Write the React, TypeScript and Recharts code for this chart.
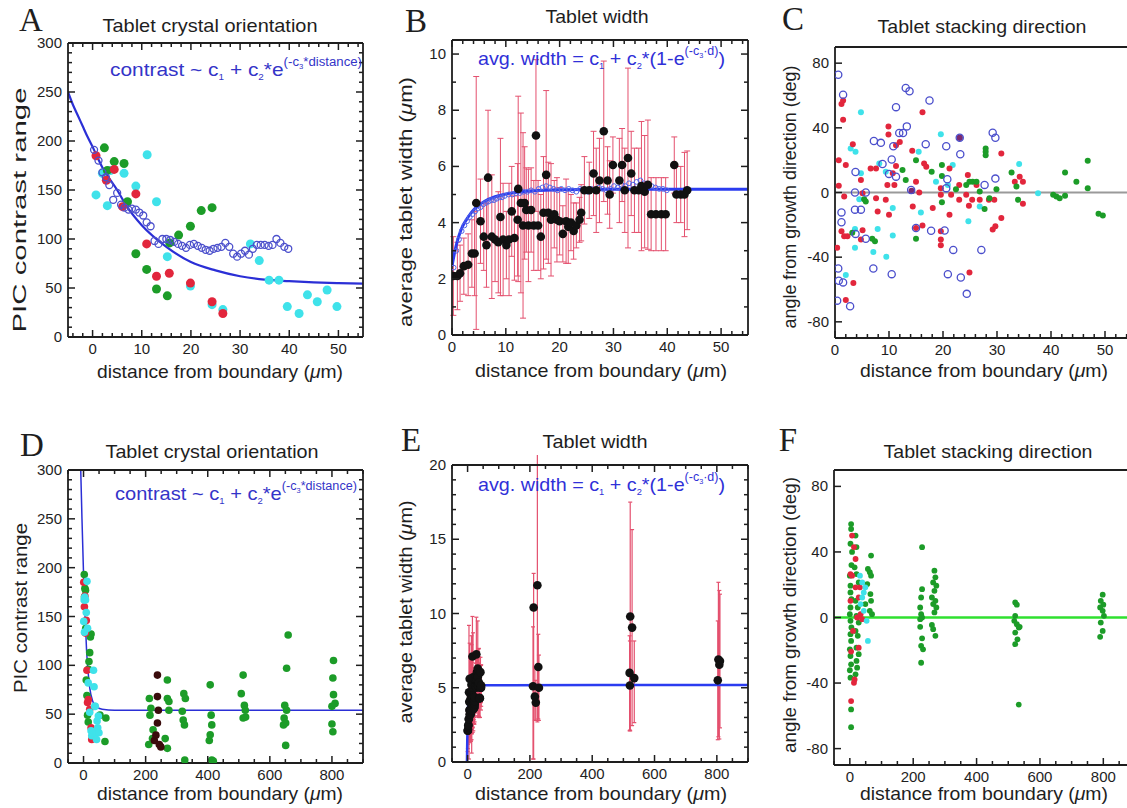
import React from 'react'
import { ComposedChart, Scatter, Line, XAxis, YAxis, ErrorBar, ReferenceLine } from 'recharts'

const FONT = '"Liberation Sans", Arial, Helvetica, sans-serif'
const SERIF = '"Liberation Serif", "Times New Roman", serif'
const GREEN = '#1c9c28'
const RED = '#e2263c'
const CYAN = '#3fe2ea'
const OPEN = '#4b4fcc'
const FIT = '#2b2fd6'
const BAR = '#e4506e'
const INK = '#1e1e1e'

// ---- A / D: PIC contrast range vs distance ----
const aOpen = [[0.3,191],[1.2,180],[2.0,168],[2.7,163],[3.4,155],[4.2,140],[5.0,147],[5.8,135],[6.5,132],[7.3,130],[8.0,131],[8.8,130],[9.5,127],[10.3,124],[11.0,117],[11.8,113],[12.6,98],[13.4,95],[14.2,100],[15.0,100],[15.8,99],[16.6,97],[17.4,95],[18.2,93],[19.0,91],[19.8,94],[20.6,95],[21.4,93],[22.2,91],[23.0,89],[23.8,88],[24.6,90],[25.4,91],[26.2,92],[27.0,96],[27.8,92],[28.6,85],[29.4,82],[30.2,85],[31.0,88],[31.8,84],[32.6,90],[33.4,94],[34.2,94],[35.0,94],[35.8,93],[36.6,94],[37.4,100],[38.2,96],[39.0,92],[39.8,90]]
const aGreen = [[2.4,193],[3.0,170],[4.4,179],[6.4,177],[7.1,138],[8.8,85],[11.0,69],[13.0,49],[15.2,42],[15.7,96],[17.5,104],[19.9,113],[22.1,129],[24.3,132]]
const aRed = [[0.7,185],[2.8,160],[4.4,171],[6.1,133],[8.8,146],[11.0,95],[13.0,62],[15.6,65],[19.9,55],[24.3,36],[26.5,24]]
const aCyan = [[0.7,145],[2.0,167],[3.0,134],[3.7,170],[6.4,167],[8.8,154],[11.1,186],[13.0,138],[15.2,82],[19.9,52],[24.3,33],[26.5,28],[32.1,95],[33.9,78],[35.9,58],[37.9,58],[39.6,31],[42.0,24],[43.7,43],[45.7,36],[47.7,48],[49.7,31]]
const aFit = [[-5,250],[-4,237],[-3,226],[-2,215],[-1,204],[0,194],[2,173],[5,150],[7,133],[10,114],[15,92],[20,76.5],[25,68],[30,62],[35,58.5],[40,57],[45,55.8],[50,55],[55,54.5]]

const dGreen = [[53,49],[69,22],[72,46],[210,19],[212,66],[214,49],[217,56],[222,25],[224,34],[263,25],[270,85],[270,66],[270,15],[275,63],[275,54],[318,53],[321,44],[323,71],[325,39],[326,3],[328,66],[405,23],[408,80],[408,29],[411,49],[413,39],[413,3],[418,2],[508,71],[514,90],[514,46],[518,59],[521,54],[522,47],[644,39],[646,46],[648,59],[651,41],[651,18],[654,97],[654,54],[659,131],[800,58],[800,40],[803,87],[803,32],[805,105],[805,70],[810,61]]
const dDark = [[228,23],[233,28.5],[238,90],[238,68],[238,41],[241,54],[244,19],[249,16.5]]
const dFit = [[-9,300],[-5,250],[0,194],[5,150],[10,114],[20,77],[30,63],[40,58],[60,55],[100,54],[900,54]]

// ---- B / E: average tablet width ----
const bBlack = [[0.25,2.1,1.4],[1.0,2.1,1.2],[1.5,2.2,1.0],[2.2,2.45,1.0],[3.0,2.5,1.1],[3.7,2.9,1.2],[4.2,2.9,1.5],[4.5,4.7,4.5],[5.3,4.05,1.5],[5.9,3.5,1.2],[6.4,3.2,1.5],[6.7,5.6,2.4],[7.4,3.5,2.2],[8.0,3.4,1.5],[8.6,3.3,1.8],[9.0,4.2,2.8],[9.5,3.4,2.0],[10.1,3.2,1.2],[10.6,3.4,2.0],[11.1,4.4,1.6],[11.6,3.45,1.5],[12.2,4.1,2.0],[12.3,5.2,3.3],[12.8,4.7,3.2],[13.2,3.9,3.3],[13.5,4.7,2.0],[13.8,4.45,1.5],[14.2,3.9,2.0],[14.7,4.45,1.5],[15.2,3.9,1.6],[15.6,7.1,2.7],[16.0,3.9,1.6],[16.5,3.5,1.5],[17.0,4.35,2.0],[17.5,5.7,3.0],[17.9,4.35,1.8],[18.4,4.1,2.0],[19.0,4.3,1.2],[19.5,4.1,1.5],[20.0,4.05,1.2],[20.6,3.6,1.0],[21.2,4.05,1.5],[21.6,3.85,1.3],[22.1,4.0,1.0],[22.6,3.7,1.0],[23.1,3.9,0.8],[23.7,4.1,0.8],[24.0,4.35,1.0],[24.6,5.15,1.2],[25.5,5.15,1.0],[26.3,5.75,1.5],[26.8,5.15,1.5],[27.4,5.5,1.5],[28.2,7.25,2.5],[28.9,5.5,1.2],[29.3,5.0,1.2],[29.9,6.05,1.0],[31.1,5.5,1.5],[31.6,6.05,1.3],[32.1,5.15,1.5],[32.7,6.3,3.2],[33.3,5.75,1.5],[33.9,5.15,1.5],[34.7,5.15,1.5],[35.2,5.3,2.3],[35.8,5.1,2.0],[36.4,5.35,2.3],[37.0,4.3,1.3],[37.9,4.3,1.3],[38.9,4.3,1.3],[39.7,4.3,1.3],[41.3,6.05,1.0],[41.7,5.0,1.0],[42.5,5.0,1.0],[43.2,5.0,1.5],[43.7,5.15,1.4]]
const bOpen = [[0.3,2.4],[0.8,3.0],[1.3,3.4],[1.8,3.7],[2.3,3.9],[2.8,4.05],[3.3,4.2],[3.8,4.3],[4.3,4.4],[4.8,4.5],[5.3,4.55],[5.8,4.65],[6.3,4.7],[6.8,4.75],[7.3,4.8],[7.8,4.8],[8.3,4.85],[8.8,4.9],[9.3,4.9],[9.8,4.95],[10.5,5.0],[11.2,5.0],[11.9,5.05],[12.6,5.05],[13.3,5.1],[14.0,5.1],[14.7,5.15],[15.4,5.1],[16.1,5.2],[16.8,5.25],[17.5,5.3],[18.2,5.25],[18.9,5.2],[19.6,5.15],[20.3,5.2],[21.0,5.15],[21.7,5.2],[22.4,5.15],[23.1,5.1],[23.8,5.2],[24.5,5.15],[25.2,5.1],[25.9,5.2],[26.6,5.15],[27.3,5.25],[28.0,5.2],[28.7,5.15],[29.4,5.2],[30.1,5.3],[30.8,5.25],[31.5,5.35],[32.2,5.3],[32.9,5.4],[33.6,5.35],[34.3,5.45],[35.0,5.5],[35.7,5.4],[36.4,5.35],[37.1,5.3],[37.8,5.25],[38.5,5.2],[39.2,5.2],[39.9,5.15]]
const bFit = [[0,2.45],[0.5,2.95],[1,3.35],[1.5,3.65],[2,3.88],[3,4.2],[4,4.45],[5,4.62],[6,4.75],[8,4.92],[10,5.02],[12,5.08],[15,5.13],[20,5.17],[30,5.19],[55,5.19]]

// far-field points: x, y, error below, error above
const eBlack = [[210,5.1,4.9,4],[212,10.4,10.2,2.3],[216,4.4,1.6,2],[219,4.0,1.2,1.5],[224,11.9,9.2,9],[227,6.4,3.5,2.2],[229,5.0,2.2,2.2],[520,6.0,3.9,2.5],[521,5.15,3,3],[522,9.8,7.7,7.7],[528,9.05,6.6,6.6],[535,5.65,3,2.5],[803,5.5,4,4],[805,6.9,5.2,5.2],[808,6.55,5.0,5.0],[810,6.8,4.5,4.5]]
const eFit = [[-2,0],[-1,1.5],[0,2.45],[2,3.88],[5,4.62],[10,5.02],[20,5.17],[900,5.19]]

// ---- C: stacking direction, near boundary ----
const cOpen = [[0.6,72.8],[1.5,60.5],[11.3,52.8],[13.1,64.6],[13.8,62.6],[17.5,56.9],[13.3,40.9],[12.6,36.8],[11.9,36.8],[7.2,31.9],[8.5,30.7],[10.8,28.6],[16.8,29.9],[20.6,28.6],[23.2,23.7],[23.1,33.9],[29.2,37.0],[29.7,33.9],[10.5,20.4],[8.8,17.6],[3.8,12.7],[10.0,11.5],[11.3,9.8],[20.8,8.2],[29.7,8.6],[27.7,4.7],[20.6,2.7],[5.7,0],[3.7,0],[14.1,1.6],[3.7,-10.6],[4.8,-10.6],[1.2,-12.3],[1.2,-18.4],[5.7,-28.6],[15.0,-21.9],[17.8,-23.7],[20.3,-23.5],[3.8,-25.6],[0.6,-47.0],[0.7,-54.6],[1.5,-55.6],[0.4,-66.9],[2.8,-70.4],[7.1,-47.0],[10.5,-50.5],[20.9,-50.5],[21.9,-35.5],[23.3,-52.6],[27.1,-35.5],[24.4,-62.7]]
const cRed = [[1.2,54.8],[1.5,56.9],[1.5,45.0],[0.7,20.0],[2.0,17.0],[3.3,29.9],[0.7,4.1],[1.7,-2.5],[0.4,-34.2],[1.2,-23.9],[1.7,-27.0],[2.3,-27.0],[2.0,-66.5],[3.4,-56.0],[4.8,-29.0],[5.1,-23.3],[4.8,7.8],[5.1,-0.4],[6.6,14.9],[7.6,14.9],[7.6,-3.5],[7.9,-11.7],[9.4,-4.5],[9.7,4.7],[9.9,40.9],[9.9,35.8],[10.7,11.9],[11.0,4.7],[11.3,16.4],[11.3,29.2],[10.0,-13.7],[12.0,31.3],[14.3,25.8],[14.4,-8.6],[15.0,6.7],[15.0,-21.9],[15.6,0],[16.2,-20.4],[16.5,18.0],[16.9,16.0],[16.2,49.7],[18.1,-9.6],[19.6,2.7],[19.6,-1.4],[19.6,-23.9],[19.6,-29.0],[19.6,-32.7],[21.2,14.9],[21.2,-13.7],[21.5,-1.4],[23.0,-4.5],[23.0,4.7],[24.3,-1.4],[24.6,10.8],[24.8,-8.2],[24.9,-49.5],[25.4,-4.5],[26.2,4.7],[26.8,-4.5],[28.5,-4.5],[29.5,-4.5],[29.2,-22.9],[29.7,-20.9],[30.8,24.1],[30.8,-15.7],[33.3,6.7],[34.2,9.8],[34.8,6.7],[34.8,-7.0]]
const cGreen = [[5.4,-4.1],[5.7,-5.5],[6.9,-28.6],[7.4,-30.1],[3.2,-24.9],[12.5,13.9],[13.1,7.8],[15.0,20.0],[15.0,-28.6],[17.9,12.9],[19.8,17.0],[19.8,10.2],[19.8,-6.1],[22.4,2.0],[24.3,4.7],[24.9,6.7],[25.5,6.7],[26.2,6.7],[26.8,0.6],[27.7,-10.2],[27.9,27.2],[27.9,25.2],[27.9,23.1],[28.6,-3.5],[29.9,2.0],[32.7,12.3],[33.6,3.7],[33.9,-4.5],[40.4,-1.4],[41.0,-2.5],[41.6,-3.5],[42.6,12.3],[42.6,-2.0],[44.7,6.7],[46.8,19.6],[46.8,2.7],[48.8,-13.1],[49.6,-14.3]]
const cCyan = [[4.8,49.7],[2.9,27.2],[3.8,25.2],[4.8,11.9],[4.5,-4.1],[3.7,-22.5],[3.7,-34.2],[2.0,-51.1],[7.1,-36.8],[7.9,-22.5],[9.5,-39.7],[10.7,-26.6],[10.7,-9.6],[9.4,12.9],[8.2,18.0],[19.6,36.0],[18.7,6.7],[15.5,25.2],[15.9,-12.3],[21.8,17.0],[20.9,4.7],[24.7,-17.8],[26.8,-8.6],[34.1,17.6],[37.6,-0.4]]
const cPurple = [[23.1,33.9],[14.2,1.0]]

// ---- F: stacking direction, far field ----
const fGreen = [[4,57],[4,54],[2,45],[7,40],[5,32],[0,25.5],[2,19.4],[2,15.3],[5,11.2],[2,6.1],[0,2.0],[2,-2.0],[5,-6.1],[2,-10.2],[4,-14.3],[0,-19.4],[2,-23.5],[4,-28.6],[0,-32.2],[2,-36.7],[4,-56.1],[4,-66.9],[18,50],[21,43],[15,30.6],[21,26.5],[28,21.4],[18,10.2],[25,6.1],[21,1.0],[28,-3.1],[18,-8.2],[25,-11.2],[21,-18.4],[28,-22.4],[21,-26.5],[23,-30.6],[18,-34.7],[57,29.6],[63,27.6],[67,25.5],[67,37.8],[65,14.3],[67,10.2],[63,4.1],[70,2.0],[55,20.4],[49,8.2],[228,42.9],[228,17.3],[225,12.2],[222,6.1],[225,2.0],[228,0],[222,-5.7],[228,-12.7],[225,-17.3],[231,-19.4],[225,-27.6],[222,-1.0],[267,28.6],[270,24.5],[263,21.4],[273,19.4],[267,16.3],[259,12.2],[270,10.2],[263,8.2],[273,6.1],[267,3.1],[259,-4.5],[263,-7.1],[270,-11.2],[522,9.2],[527,7.8],[522,1.0],[519,-2.0],[527,-4.1],[533,-6.1],[522,-9.2],[529,-13.3],[522,-16.3],[533,-53.1],[536,-5.7],[798,13.9],[792,10.2],[800,7.8],[790,6.1],[798,4.1],[802,1.0],[792,-3.1],[798,-8.2],[790,-11.8]]
const fRed = [[7,50],[13,43],[18,35.7],[2,26.5],[7,25.5],[18,18.4],[2,10.2],[28,12.2],[23,0],[10,-8.2],[34,2.0],[28,-18.4],[4,-20.8],[13,-39.8],[15,-37.8],[4,-51.0],[39,-1.0],[32,18.4]]
const fCyan = [[32,25.5],[39,21.4],[49,18.4],[39,12.2],[44,4.1],[53,-2.0],[57,-14.3],[34,8.2],[44,15.3]]

// tick labels
const xMajNear = [0, 10, 20, 30, 40, 50]
const xMajFar = [0, 200, 400, 600, 800]
const yMajPic = [0, 50, 100, 150, 200, 250, 300]
const yMajWidthB = [0, 2, 4, 6, 8, 10]
const yMajWidthE = [0, 5, 10, 15, 20]
const yMajAngle = [-80, -40, 0, 40, 80]

const pts = (a: number[][]) => a.map(([x, y]) => ({ x, y }))
const range = (a: number, b: number, s: number) => {
  const out: number[] = []
  for (let v = a; v <= b + 1e-9; v += s) out.push(Math.round(v * 1000) / 1000)
  return out
}

const ax = { xAxisId: 'b', yAxisId: 'l' }
const dot = (fill: string, r: number) => (p: any) => <circle cx={p.cx} cy={p.cy} r={r} fill={fill} />
const ring = (stroke: string, r: number, w = 1.3) => (p: any) => (
  <circle cx={p.cx} cy={p.cy} r={r} fill="none" stroke={stroke} strokeWidth={w} />
)
const noShape = () => <g />

type Side = 'bottom' | 'left' | 'top' | 'right'

function tickOf(side: Side, major: number[], labels: boolean) {
  return (p: any) => {
    const v = Number(p.payload?.value)
    const big = major.some((m) => Math.abs(m - v) < 1e-6)
    const n = big ? 7 : 4
    const { x, y } = p
    let c = { x1: x, x2: x, y1: y, y2: y - n }
    if (side === 'top') c = { x1: x, x2: x, y1: y, y2: y + n }
    else if (side === 'left') c = { x1: x, x2: x + n, y1: y, y2: y }
    else if (side === 'right') c = { x1: x, x2: x - n, y1: y, y2: y }
    return (
      <g>
        <line {...c} stroke={INK} strokeWidth={1.5} />
        {labels && big && side === 'bottom' && (
          <text x={x} y={y + 17} textAnchor="middle" fontSize={15} fontFamily={FONT} fill={INK}>{v}</text>
        )}
        {labels && big && side === 'left' && (
          <text x={x - 6} y={y + 5} textAnchor="end" fontSize={15} fontFamily={FONT} fill={INK}>{v}</text>
        )}
      </g>
    )
  }
}

interface PanelProps {
  left: number
  top: number
  w: number
  h: number
  xd: [number, number]
  yd: [number, number]
  xMaj: number[]
  xStep: number
  yMaj: number[]
  yStep: number
  frame?: boolean
  children: React.ReactNode
}

function Panel({ left, top, w, h, xd, yd, xMaj, xStep, yMaj, yStep, frame = true, children }: PanelProps) {
  const xt = range(Math.ceil(xd[0] / xStep) * xStep, xd[1], xStep)
  const yt = range(Math.ceil(yd[0] / yStep) * yStep, yd[1], yStep)
  const line = { stroke: INK, strokeWidth: 1.8 }
  return (
    <div style={{ position: 'absolute', left: left - 70, top: top - 10 }}>
      <ComposedChart width={w + 80} height={h + 40} margin={{ top: 0, right: 0, bottom: 0, left: 0 }}>
        <XAxis xAxisId="b" type="number" dataKey="x" domain={xd} allowDataOverflow ticks={xt} interval={0}
          height={30} tickSize={0} tickMargin={0} tickLine={false} tick={tickOf('bottom', xMaj, true)} axisLine={line} />
        <XAxis xAxisId="t" orientation="top" type="number" dataKey="x" domain={xd} allowDataOverflow ticks={xt} interval={0}
          height={10} tickSize={0} tickMargin={0} tickLine={false} tick={frame ? tickOf('top', xMaj, false) : false} axisLine={line} />
        <YAxis yAxisId="l" type="number" dataKey="y" domain={yd} allowDataOverflow ticks={yt} interval={0}
          width={70} tickSize={0} tickMargin={0} tickLine={false} tick={tickOf('left', yMaj, true)} axisLine={line} />
        <YAxis yAxisId="r" orientation="right" type="number" dataKey="y" domain={yd} allowDataOverflow ticks={yt} interval={0}
          width={10} tickSize={0} tickMargin={0} tickLine={false} tick={frame ? tickOf('right', yMaj, false) : false} axisLine={line} />
        {children}
      </ComposedChart>
    </div>
  )
}

// text fitted to the length it has in the figure
function Fit({ x, y, len, size = 19, rot = false, anchor = 'middle', children }: any) {
  return (
    <text
      transform={`translate(${x},${y})${rot ? ' rotate(-90)' : ''}`}
      textAnchor={anchor}
      fontSize={size}
      fontFamily={FONT}
      fill={INK}
      textLength={len}
      lengthAdjust="spacingAndGlyphs"
    >
      {children}
    </text>
  )
}

function Letter({ x, y, children }: any) {
  return (
    <text x={x} y={y} textAnchor="middle" fontSize={33} fontFamily={SERIF} fill={INK}>{children}</text>
  )
}

function ContrastFormula({ x, y, len }: { x: number; y: number; len: number }) {
  return (
    <text x={x} y={y} fontSize={19} fontFamily={FONT} fill="#3434c8" textLength={len} lengthAdjust="spacingAndGlyphs">
      {'contrast ~ c'}
      <tspan fontSize={9} dy={4}>1</tspan>
      <tspan dy={-4}>{' + c'}</tspan>
      <tspan fontSize={9} dy={4}>2</tspan>
      <tspan dy={-4}>{'*e'}</tspan>
      <tspan fontSize={12} dy={-10}>{'(-c'}</tspan>
      <tspan fontSize={7} dy={3}>3</tspan>
      <tspan fontSize={12} dy={-3}>{'*distance)'}</tspan>
    </text>
  )
}

function WidthFormula({ x, y, len }: { x: number; y: number; len: number }) {
  return (
    <text x={x} y={y} fontSize={19} fontFamily={FONT} fill="#3030d8" textLength={len} lengthAdjust="spacingAndGlyphs">
      {'avg. width = c'}
      <tspan fontSize={9} dy={4}>1</tspan>
      <tspan dy={-4}>{' + c'}</tspan>
      <tspan fontSize={9} dy={4}>2</tspan>
      <tspan dy={-4}>{'*(1-e'}</tspan>
      <tspan fontSize={12} dy={-10}>{'(-c'}</tspan>
      <tspan fontSize={7} dy={3}>3</tspan>
      <tspan fontSize={12} dy={-3}>{'·d)'}</tspan>
      <tspan dy={10}>{')'}</tspan>
    </text>
  )
}

const Dist = () => (
  <>
    {'distance from boundary ('}
    <tspan fontStyle="italic">μ</tspan>
    {'m)'}
  </>
)
const AvgW = () => (
  <>
    {'average tablet width ('}
    <tspan fontStyle="italic">μ</tspan>
    {'m)'}
  </>
)

export default function App() {
  const bErr = bBlack.map(([x, y, e]) => ({ x, y, e: [e, e] }))
  const eErr = [...bErr, ...eBlack.map(([x, y, lo, hi]) => ({ x, y, e: [lo, hi] }))]
  return (
    <div style={{ position: 'absolute', left: 0, top: 0, width: 1127, height: 808, overflow: 'hidden', background: '#fff' }}>
      {/* A */}
      <Panel left={68} top={43} w={295} h={294} xd={[-5, 55]} yd={[0, 300]} xMaj={xMajNear} xStep={2} yMaj={yMajPic} yStep={10}>
        <Scatter {...ax} data={pts(aCyan)} shape={dot(CYAN, 4.5)} isAnimationActive={false} />
        <Scatter {...ax} data={pts(aGreen)} shape={dot(GREEN, 4.5)} isAnimationActive={false} />
        <Scatter {...ax} data={pts(aRed)} shape={dot(RED, 4.5)} isAnimationActive={false} />
        <Scatter {...ax} data={pts(aOpen)} shape={ring(OPEN, 3.5)} isAnimationActive={false} />
        <Line {...ax} data={pts(aFit)} dataKey="y" type="monotone" stroke={FIT} strokeWidth={2.2} dot={false} activeDot={false} isAnimationActive={false} />
      </Panel>
      {/* B */}
      <Panel left={452} top={40} w={296} h={295} xd={[0, 55]} yd={[0, 10.5]} xMaj={xMajNear} xStep={2} yMaj={yMajWidthB} yStep={1}>
        <Scatter {...ax} data={bErr} shape={noShape} isAnimationActive={false}>
          <ErrorBar dataKey="e" direction="y" width={3} stroke={BAR} strokeWidth={1} isAnimationActive={false} />
        </Scatter>
        <Scatter {...ax} data={pts(bOpen)} shape={ring('#5566e6', 2.4, 1)} isAnimationActive={false} />
        <Line {...ax} data={pts(bFit)} dataKey="y" type="monotone" stroke="#2b3cf0" strokeWidth={3} dot={false} activeDot={false} isAnimationActive={false} />
        <Scatter {...ax} data={bErr} shape={dot('#111', 4.3)} isAnimationActive={false} />
      </Panel>
      {/* C */}
      <Panel left={835} top={47} w={297} h={291} xd={[0, 55]} yd={[-90, 90]} xMaj={xMajNear} xStep={2} yMaj={yMajAngle} yStep={40} frame={false}>
        <ReferenceLine {...ax} y={0} stroke="#9a9a9a" strokeWidth={2} />
        <Scatter {...ax} data={pts(cCyan)} shape={dot(CYAN, 3)} isAnimationActive={false} />
        <Scatter {...ax} data={pts(cRed)} shape={dot(RED, 3)} isAnimationActive={false} />
        <Scatter {...ax} data={pts(cGreen)} shape={dot(GREEN, 3)} isAnimationActive={false} />
        <Scatter {...ax} data={pts(cPurple)} shape={dot('#7a2a72', 3.2)} isAnimationActive={false} />
        <Scatter {...ax} data={pts(cOpen)} shape={ring(OPEN, 3.6)} isAnimationActive={false} />
      </Panel>
      {/* D */}
      <Panel left={68} top={470} w={295} h={293} xd={[-50, 900]} yd={[0, 300]} xMaj={xMajFar} xStep={50} yMaj={yMajPic} yStep={10}>
        <Scatter {...ax} data={pts(aGreen)} shape={dot(GREEN, 3.8)} isAnimationActive={false} />
        <Scatter {...ax} data={pts(dGreen)} shape={dot(GREEN, 3.8)} isAnimationActive={false} />
        <Scatter {...ax} data={pts(aRed)} shape={dot(RED, 3.8)} isAnimationActive={false} />
        <Scatter {...ax} data={pts(aCyan)} shape={dot(CYAN, 3.8)} isAnimationActive={false} />
        <Scatter {...ax} data={pts(dDark)} shape={dot('#3a0c0c', 3.8)} isAnimationActive={false} />
        <Line {...ax} data={pts(dFit)} dataKey="y" type="monotone" stroke={FIT} strokeWidth={1.5} dot={false} activeDot={false} isAnimationActive={false} />
      </Panel>
      {/* E */}
      <Panel left={452} top={465} w={296} h={297} xd={[-50, 900]} yd={[0, 20]} xMaj={xMajFar} xStep={50} yMaj={yMajWidthE} yStep={1}>
        <Scatter {...ax} data={eErr} shape={noShape} isAnimationActive={false}>
          <ErrorBar dataKey="e" direction="y" width={2} stroke={BAR} strokeWidth={1.2} isAnimationActive={false} />
        </Scatter>
        <Line {...ax} data={pts(eFit)} dataKey="y" type="monotone" stroke="#2b3cf0" strokeWidth={2.5} dot={false} activeDot={false} isAnimationActive={false} />
        <Scatter {...ax} data={eErr} shape={dot('#111', 4.3)} isAnimationActive={false} />
      </Panel>
      {/* F */}
      <Panel left={834} top={470} w={301} h={295} xd={[-50, 900]} yd={[-90, 90]} xMaj={xMajFar} xStep={50} yMaj={yMajAngle} yStep={40} frame={false}>
        <ReferenceLine {...ax} y={0} stroke="#2fe02f" strokeWidth={2.5} />
        <Scatter {...ax} data={pts(fGreen)} shape={dot(GREEN, 2.9)} isAnimationActive={false} />
        <Scatter {...ax} data={pts(fRed)} shape={dot(RED, 2.9)} isAnimationActive={false} />
        <Scatter {...ax} data={pts(fCyan)} shape={dot(CYAN, 2.9)} isAnimationActive={false} />
      </Panel>

      <svg width={1127} height={808} style={{ position: 'absolute', left: 0, top: 0, pointerEvents: 'none' }}>
        {/* panel letters */}
        <Letter x={31} y={31}>A</Letter>
        <Letter x={416} y={32}>B</Letter>
        <Letter x={793} y={30}>C</Letter>
        <Letter x={32} y={456}>D</Letter>
        <Letter x={411} y={451}>E</Letter>
        <Letter x={788} y={451}>F</Letter>

        {/* titles */}
        <Fit x={210} y={32} len={215}>Tablet crystal orientation</Fit>
        <Fit x={597} y={23} len={103}>Tablet width</Fit>
        <Fit x={982} y={33} len={209}>Tablet stacking direction</Fit>
        <Fit x={212} y={458} len={213}>Tablet crystal orientation</Fit>
        <Fit x={595} y={448} len={105}>Tablet width</Fit>
        <Fit x={988} y={458} len={209}>Tablet stacking direction</Fit>

        {/* x axis titles */}
        <Fit x={220} y={378} len={246}><Dist /></Fit>
        <Fit x={601} y={377} len={252}><Dist /></Fit>
        <Fit x={984} y={377} len={248}><Dist /></Fit>
        <Fit x={220} y={800} len={246}><Dist /></Fit>
        <Fit x={601} y={800} len={252}><Dist /></Fit>
        <Fit x={984} y={800} len={248}><Dist /></Fit>

        {/* y axis titles */}
        <Fit x={26} y={210} len={245} rot>PIC contrast range</Fit>
        <Fit x={412} y={202} len={250} rot><AvgW /></Fit>
        <Fit x={796} y={197} len={263} rot>angle from growth direction (deg)</Fit>
        <Fit x={27} y={608} len={170} rot>PIC contrast range</Fit>
        <Fit x={412} y={612} len={223} rot><AvgW /></Fit>
        <Fit x={796} y={615} len={276} rot>angle from growth direction (deg)</Fit>

        {/* fit formulas */}
        <ContrastFormula x={110} y={76} len={252} />
        <WidthFormula x={478} y={65} len={247} />
        <ContrastFormula x={115} y={500} len={242} />
        <WidthFormula x={478} y={491} len={247} />
      </svg>
    </div>
  )
}
